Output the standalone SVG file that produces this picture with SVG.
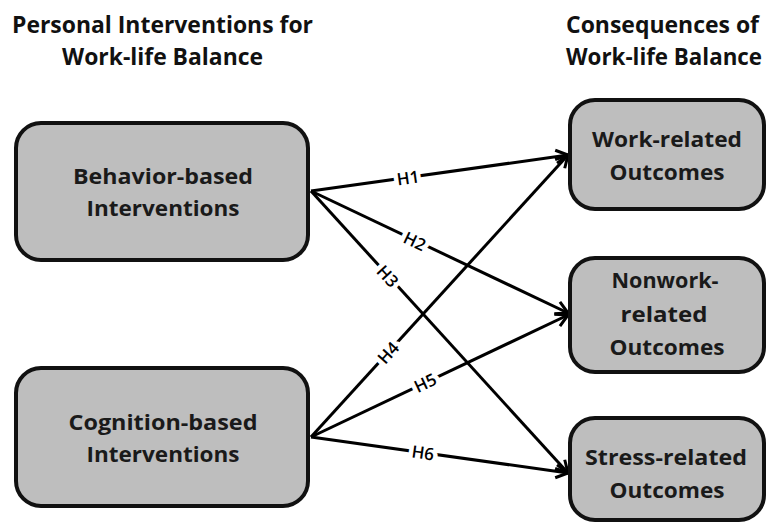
<svg xmlns="http://www.w3.org/2000/svg" width="769" height="526" viewBox="0 0 769 526">
<defs>
<style>
.title{font-family:"Open Sans","Liberation Sans",sans-serif;font-weight:700;font-size:24px;fill:#111}
.box{fill:#bebebe;stroke:#111;stroke-width:4}
.lbl{font-family:"Open Sans","Liberation Sans",sans-serif;font-weight:700;font-size:21px;fill:#1a1a1a;text-anchor:middle}
.edge{stroke:#000;stroke-width:3;fill:none;marker-end:url(#arr)}
.h{font-family:"Open Sans","Liberation Sans",sans-serif;font-weight:600;font-size:17px;fill:#000;text-anchor:middle;dominant-baseline:central;stroke:#fff;stroke-width:9;paint-order:stroke;stroke-linejoin:round}
</style>
<marker id="arr" markerUnits="userSpaceOnUse" markerWidth="18" markerHeight="18" viewBox="0 0 18 18" refX="16" refY="9" orient="auto">
<path d="M4,2.5 L16,9 L4,15.5" fill="none" stroke="#000" stroke-width="3" stroke-linejoin="miter"/>
</marker>
</defs>
<rect width="769" height="526" fill="#fff"/>
<g id="titles">
<text class="title" x="12" y="33" textLength="301" lengthAdjust="spacingAndGlyphs">Personal Interventions for</text>
<text class="title" x="62" y="65" textLength="201" lengthAdjust="spacingAndGlyphs">Work-life Balance</text>
<text class="title" x="759" y="33" text-anchor="end" textLength="193" lengthAdjust="spacingAndGlyphs">Consequences of</text>
<text class="title" x="762" y="65" text-anchor="end" textLength="196" lengthAdjust="spacingAndGlyphs">Work-life Balance</text>
</g>
<g id="connectors">
<line class="edge" x1="311" y1="191" x2="568" y2="155"/>
<line class="edge" x1="311" y1="191" x2="568" y2="313"/>
<line class="edge" x1="311" y1="191" x2="568" y2="473"/>
<line class="edge" x1="311" y1="437" x2="568" y2="155"/>
<line class="edge" x1="311" y1="437" x2="568" y2="315"/>
<line class="edge" x1="311" y1="437" x2="568" y2="473"/>
<text class="h" transform="translate(408,177.5) rotate(-8)">H1</text>
<text class="h" transform="translate(415,241) rotate(25.4)">H2</text>
<text class="h" transform="translate(388,276) rotate(47.7)">H3</text>
<text class="h" transform="translate(388,352.5) rotate(-47.7)">H4</text>
<text class="h" transform="translate(425,382.5) rotate(-25.4)">H5</text>
<text class="h" transform="translate(423,452.5) rotate(8)">H6</text>
</g>
<g id="behavior">
<rect class="box" x="16" y="123" width="292" height="137" rx="25"/>
<text class="lbl" x="163" y="184" textLength="180" lengthAdjust="spacingAndGlyphs">Behavior-based</text>
<text class="lbl" x="163" y="216" textLength="153" lengthAdjust="spacingAndGlyphs">Interventions</text>
</g>
<g id="cognition">
<rect class="box" x="16" y="368" width="292" height="138" rx="25"/>
<text class="lbl" x="163" y="430" textLength="189" lengthAdjust="spacingAndGlyphs">Cognition-based</text>
<text class="lbl" x="163" y="462" textLength="153" lengthAdjust="spacingAndGlyphs">Interventions</text>
</g>
<g id="work">
<rect class="box" x="570" y="100" width="194" height="109" rx="25"/>
<text class="lbl" x="667" y="147" textLength="150" lengthAdjust="spacingAndGlyphs">Work-related</text>
<text class="lbl" x="667" y="180" textLength="115" lengthAdjust="spacingAndGlyphs">Outcomes</text>
</g>
<g id="nonwork">
<rect class="box" x="570" y="258" width="194" height="114" rx="25"/>
<text class="lbl" x="665" y="288" textLength="107" lengthAdjust="spacingAndGlyphs">Nonwork-</text>
<text class="lbl" x="664" y="322" textLength="87" lengthAdjust="spacingAndGlyphs">related</text>
<text class="lbl" x="667" y="355" textLength="115" lengthAdjust="spacingAndGlyphs">Outcomes</text>
</g>
<g id="stress">
<rect class="box" x="570" y="418" width="194" height="102" rx="25"/>
<text class="lbl" x="666" y="465" textLength="162" lengthAdjust="spacingAndGlyphs">Stress-related</text>
<text class="lbl" x="667" y="498" textLength="115" lengthAdjust="spacingAndGlyphs">Outcomes</text>
</g>
</svg>
